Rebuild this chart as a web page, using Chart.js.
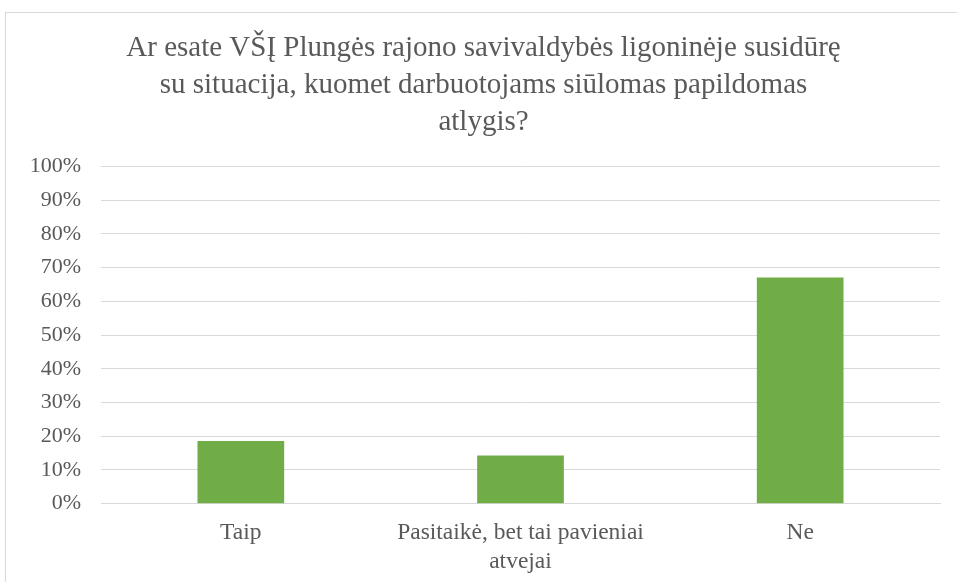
<!DOCTYPE html>
<html><head><meta charset="utf-8">
<script src="https://cdn.jsdelivr.net/npm/chart.js@4"></script>
<style>
html,body{margin:0;padding:0;background:#fff;width:957px;height:582px;overflow:hidden;}
#frame{position:absolute;left:5px;top:12px;width:960px;height:580px;border:1px solid #d9d9d9;box-sizing:border-box;}
#wrap{position:absolute;left:6px;top:13px;width:951px;height:584px;}
</style></head><body>
<div id="frame"></div>
<div id="wrap"><canvas id="c"></canvas></div>
<script>
const titleLines = ["Ar esate VŠĮ Plungės rajono savivaldybės ligoninėje susidūrę", "su situacija, kuomet darbuotojams siūlomas papildomas", "atlygis?"];
const categories = [["Taip"], ["Pasitaikė, bet tai pavieniai", "atvejai"], ["Ne"]];
const values = [18.6, 14.3, 67.1];
const yTicks = [0,10,20,30,40,50,60,70,80,90,100];

new Chart(document.getElementById('c'), {
  type: 'bar',
  data: { labels: categories, datasets: [{ data: values, backgroundColor: '#70AD47', borderWidth: 0, barPercentage: 0.31, categoryPercentage: 1 }] },
  options: {
    responsive: true, maintainAspectRatio: false, animation: false,
    layout: { padding: { left: 21, right: 17, top: 0, bottom: 6 } },
    plugins: {
      legend: { display: false }, tooltip: { enabled: false },
      title: { display: true, text: titleLines, color: '#595959', font: { family: 'Liberation Serif', size: 29, weight: 'normal', lineHeight: 1.27 }, padding: { top: 17, bottom: 26 } }
    },
    scales: {
      x: { grid: { display: false, drawTicks: false }, border: { color: '#d9d9d9' },
           ticks: { color: '#595959', font: { family: 'Liberation Serif', size: 23.5, lineHeight: 1.22 }, padding: 15, maxRotation: 0 } },
      y: { min: 0, max: 100, afterBuildTicks: ax => { ax.ticks = yTicks.map(v => ({ value: v })); },
           afterFit: ax => { ax.width = 74; },
           grid: { color: '#d9d9d9', drawTicks: false }, border: { display: false },
           ticks: { color: '#595959', font: { family: 'Liberation Serif', size: 22 }, padding: 20, callback: v => v + '%' } }
    }
  }
});
</script>
</body></html>
